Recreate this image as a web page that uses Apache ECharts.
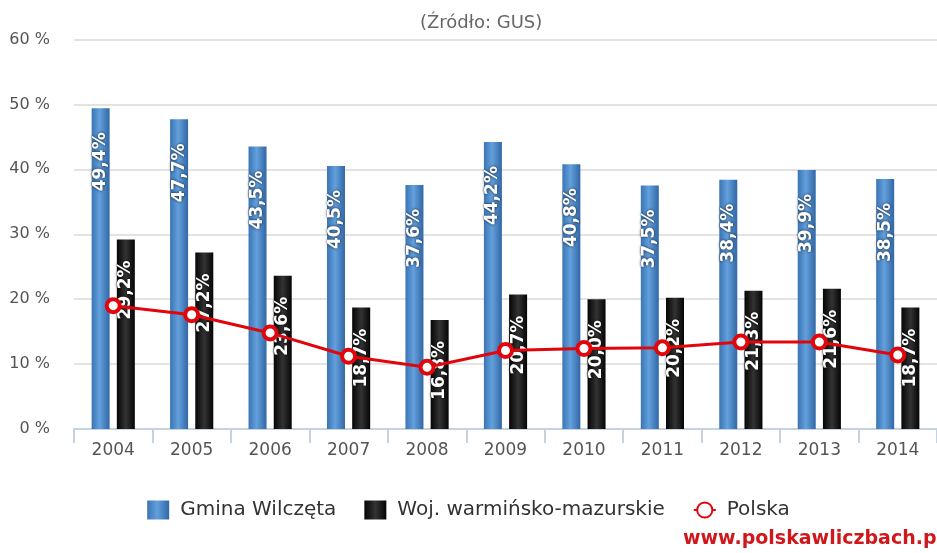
<!DOCTYPE html>
<html>
<head>
<meta charset="utf-8">
<script src="https://cdn.jsdelivr.net/npm/echarts@6/dist/echarts.min.js"></script>
<style>
  html, body { margin: 0; padding: 0; background: #fff; }
  #chart { width: 937px; height: 553px; }
</style>
</head>
<body>
<div id="chart"></div>
<script>
// lata
var years = ["2004", "2005", "2006", "2007", "2008", "2009", "2010", "2011", "2012", "2013", "2014"];
// Gmina Wilczęta
var gmina = [49.4, 47.7, 43.5, 40.5, 37.6, 44.2, 40.8, 37.5, 38.4, 39.9, 38.5];
// Woj. warmińsko-mazurskie
var woj = [29.2, 27.2, 23.6, 18.7, 16.8, 20.7, 20.0, 20.2, 21.3, 21.6, 18.7];
// Polska
var polska = [19.0, 17.6, 14.8, 11.2, 9.5, 12.1, 12.4, 12.5, 13.4, 13.4, 11.4];

var font = "DejaVu Sans";

function pct(p) {
  return p.value.toFixed(1).replace(".", ",") + "%";
}

var barLabel = {
  show: true,
  position: "insideTop",
  rotate: 90,
  align: "right",
  verticalAlign: "middle",
  distance: 24,
  color: "#fff",
  fontFamily: font,
  fontWeight: "bold",
  fontSize: 17,
  textShadowColor: "rgba(0,0,0,0.8)",
  textShadowBlur: 3,
  formatter: pct
};

var blue = new echarts.graphic.LinearGradient(0, 0, 1, 0, [
  { offset: 0, color: "#3a74b4" },
  { offset: 0.45, color: "#63a0dc" },
  { offset: 1, color: "#3167a6" }
]);
var black = new echarts.graphic.LinearGradient(0, 0, 1, 0, [
  { offset: 0, color: "#050505" },
  { offset: 0.5, color: "#333" },
  { offset: 1, color: "#050505" }
]);

var myChart = echarts.init(document.getElementById("chart"));
var option = {
  animation: false,
  title: {
    text: "(Źródło: GUS)",
    left: 415,
    top: 9,
    textStyle: { fontFamily: font, fontSize: 18, fontWeight: "normal", color: "#666" }
  },
  legend: {
    bottom: 28,
    left: "center",
    itemWidth: 22,
    itemHeight: 19,
    itemGap: 28,
    textStyle: { fontFamily: font, fontSize: 20, color: "#333", padding: [0, 0, 0, 6] },
    data: [
      { name: "Gmina Wilczęta", icon: "rect" },
      { name: "Woj. warmińsko-mazurskie", icon: "rect" },
      { name: "Polska" }
    ]
  },
  graphic: [{
    type: "text",
    left: 683,
    top: 530,
    style: {
      text: "www.polskawliczbach.pl",
      fill: "#d0181c",
      font: "bold 19px 'DejaVu Sans'"
    }
  }],
  grid: { left: 74, right: -9, top: 39.5, bottom: 124 },
  xAxis: {
    type: "category",
    data: years,
    axisLine: { lineStyle: { color: "#c4d2e2", width: 2 } },
    axisTick: { show: true, length: 14, lineStyle: { color: "#c4d2e2", width: 2 } },
    axisLabel: { fontFamily: font, fontSize: 17, color: "#555", margin: 13 }
  },
  yAxis: {
    type: "value",
    min: 0,
    max: 60,
    interval: 10,
    axisLine: { show: false },
    axisTick: { show: false },
    splitLine: { lineStyle: { color: "#dadada", width: 1.5 } },
    axisLabel: { fontFamily: font, fontSize: 16, color: "#555", margin: 24, formatter: "{value} %" }
  },
  series: [
    {
      name: "Gmina Wilczęta",
      type: "bar",
      data: gmina,
      barWidth: 18,
      barGap: "40%",
      itemStyle: { color: blue },
      label: barLabel
    },
    {
      name: "Woj. warmińsko-mazurskie",
      type: "bar",
      data: woj,
      barWidth: 18,
      itemStyle: { color: black },
      label: Object.assign({}, barLabel, { distance: 21 })
    },
    {
      name: "Polska",
      type: "line",
      data: polska,
      z: 5,
      symbol: "circle",
      symbolSize: 13,
      lineStyle: { color: "#e0060c", width: 3 },
      itemStyle: { color: "#fff", borderColor: "#e0060c", borderWidth: 4 }
    }
  ]
};
option && myChart.setOption(option);
</script>
</body>
</html>
